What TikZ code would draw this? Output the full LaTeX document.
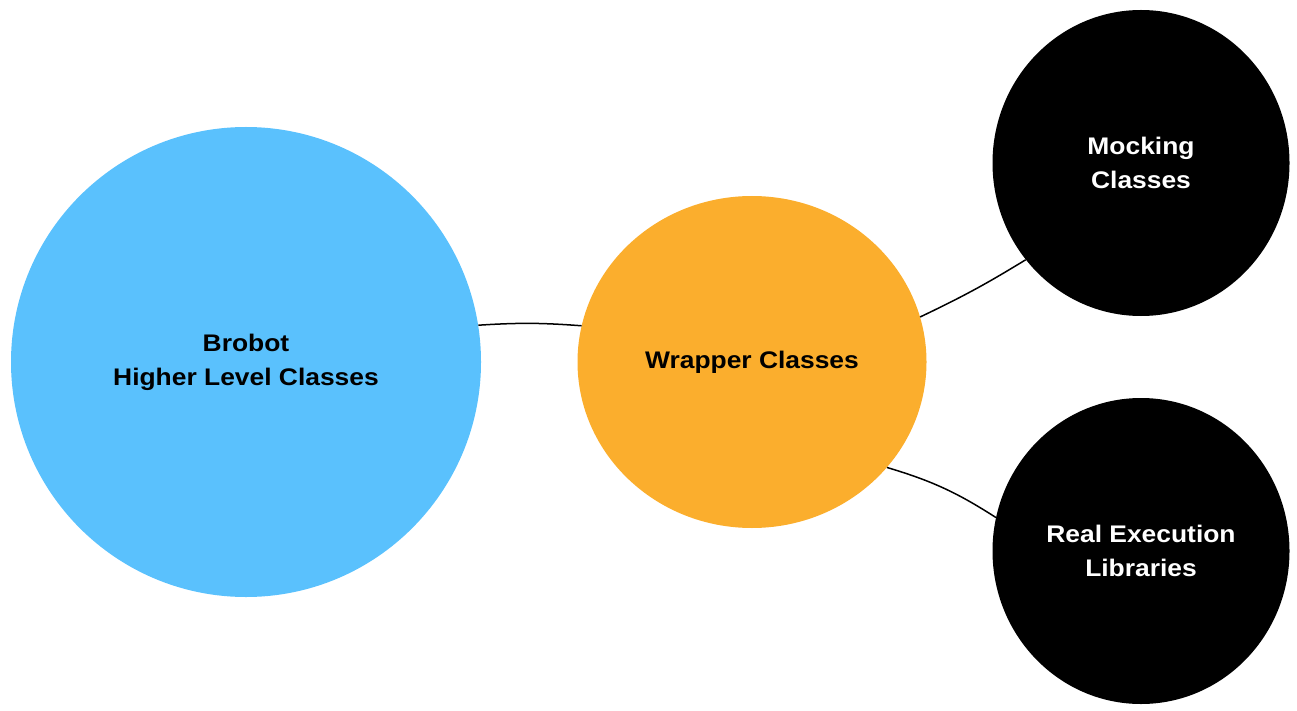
\documentclass[tikz,border=0pt]{standalone}
\usepackage{fontspec}
\setmainfont{Liberation Sans}[FakeStretch=1.1]
\usetikzlibrary{shapes.geometric}
\definecolor{bubbleblue}{RGB}{90,193,253}
\definecolor{bubbleorange}{RGB}{251,174,45}

\begin{document}
\begin{tikzpicture}[x=1pt, y=-1pt,
        bubble/.style={ellipse, inner sep=0pt, align=center,
            font=\fontsize{24}{34}\selectfont\bfseries},
        link/.style={line width=1.5pt, black}]
            \useasboundingbox (0, 0) rectangle (1297, 711);

            \node[bubble, fill=bubbleblue, minimum width=470pt, minimum height=470pt] (brobot) at (246, 362) {Brobot\\Higher Level Classes};
            \node[bubble, fill=bubbleorange, minimum width=349pt, minimum height=332pt] (wrapper) at (752, 362) {Wrapper Classes};
            \node[bubble, fill=black, text=white, minimum width=297pt, minimum height=306pt] (mocking) at (1141, 163) {Mocking\\Classes};
            \node[bubble, fill=black, text=white, minimum width=297pt, minimum height=306pt] (real) at (1141, 551) {Real Execution\\Libraries};

            \draw[link] (brobot.9) to[bend left=4] (wrapper.168);
            \draw[link] (wrapper.15) to[bend right=3] (mocking.220);
            \draw[link] (wrapper.-38) to[bend left=8] (real.167);
        \end{tikzpicture}
\end{document}
